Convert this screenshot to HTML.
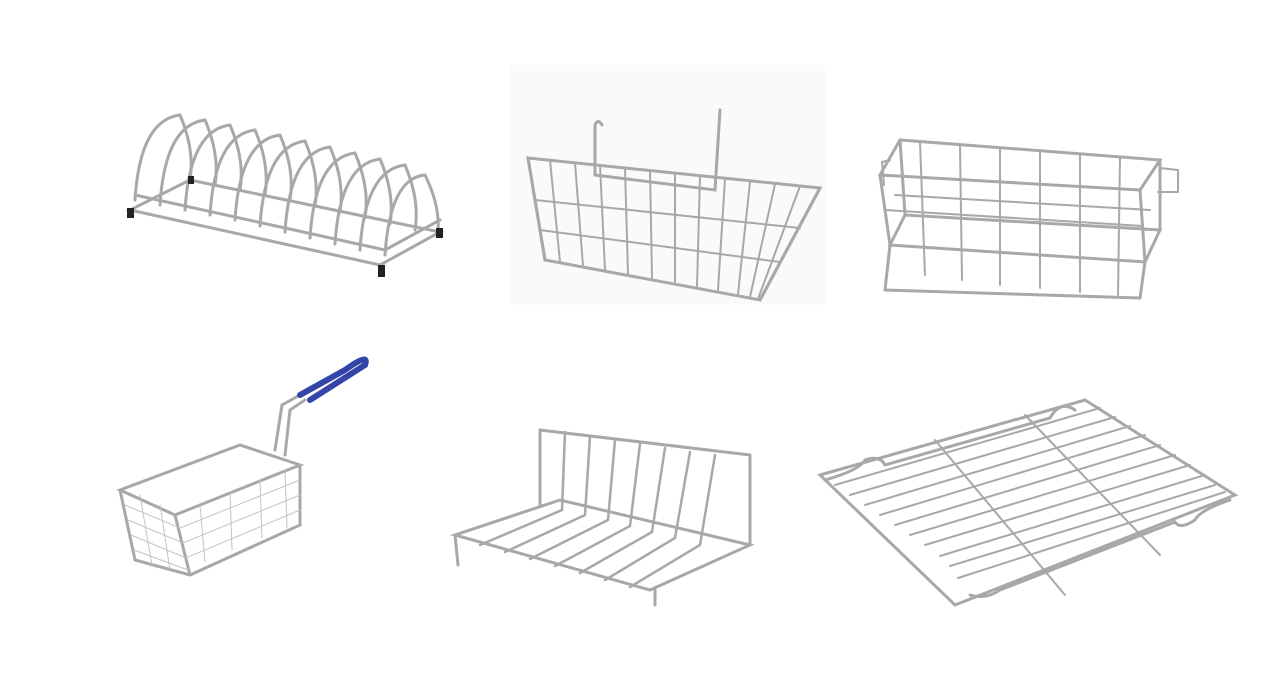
<!DOCTYPE html>
<html><head><meta charset="utf-8"><style>
html,body{margin:0;padding:0;background:#fff;width:1272px;height:688px;overflow:hidden}
</style></head><body>
<svg width="1272" height="688" viewBox="0 0 1272 688" xmlns="http://www.w3.org/2000/svg">
<rect x="510" y="65" width="315" height="240" fill="#fafafa"/>
<g fill="none" stroke="#a8a8a8" stroke-width="3" stroke-linecap="round">
<!-- Dish rack -->
<path d="M130 210 L380 265 L440 232 L190 180 Z"/>
<path d="M135 195 L385 250 L440 220"/>
<g>
<path d="M135 200 Q140 120 180 115 Q195 150 190 180"/>
<path d="M160 205 Q165 125 205 120 Q220 155 215 185"/>
<path d="M185 210 Q190 130 230 125 Q245 160 240 190"/>
<path d="M210 215 Q215 135 255 130 Q270 165 265 195"/>
<path d="M235 220 Q240 140 280 135 Q295 170 290 200"/>
<path d="M260 226 Q265 146 305 141 Q320 176 315 206"/>
<path d="M285 232 Q290 152 330 147 Q345 182 340 212"/>
<path d="M310 238 Q315 158 355 153 Q370 188 365 218"/>
<path d="M335 244 Q340 164 380 159 Q395 194 390 224"/>
<path d="M360 250 Q365 170 405 165 Q420 200 415 230"/>
<path d="M385 255 Q390 178 425 175 Q440 205 438 232"/>
</g>
<!-- wall basket -->
<path d="M528 158 L820 188 L760 300 L545 260 Z"/>
<path d="M528 158 L545 260 M820 188 L760 300"/>
<path d="M595 125 L595 175 L715 190 L720 110 M595 125 Q598 118 602 125"/>
<g stroke-width="2">
<path d="M550 160 L560 262 M575 163 L583 266 M600 165 L605 270 M625 168 L628 274 M650 170 L652 278 M675 173 L675 282 M700 176 L697 286 M725 179 L718 290 M750 182 L738 294 M775 184 L750 297 M800 186 L758 299"/>
<path d="M535 200 L800 228 M540 230 L780 262"/>
</g>
<!-- storage basket -->
<path d="M880 175 L1140 190 L1160 160 L900 140 Z"/>
<path d="M890 245 L1145 262 L1160 230 L905 215 Z"/>
<path d="M880 175 L890 245 M1140 190 L1145 262 M1160 160 L1160 230 M900 140 L905 215"/>
<path d="M885 290 L1140 298 M885 290 L890 245 M1140 298 L1145 262"/>
<g stroke-width="2">
<path d="M920 142 L925 275 M960 145 L962 280 M1000 148 L1000 285 M1040 151 L1040 288 M1080 154 L1080 292 M1120 157 L1118 295"/>
<path d="M885 210 L1143 226 M895 195 L1150 210"/>
<path d="M1160 168 L1178 170 L1178 192 L1158 192"/>
<path d="M890 160 L882 162 L884 185"/>
</g>
<!-- fry basket -->
<path d="M120 490 L240 445 L300 465 L175 515 Z"/>
<path d="M120 490 L135 560 L190 575 L300 525 L300 465"/>
<path d="M175 515 L190 575"/>
<g stroke="#c4c4c4" stroke-width="1">
<path d="M125 505 L180 528 L300 480 M128 520 L183 543 L300 495 M131 535 L186 558 L300 510 M134 550 L188 570"/>
<path d="M140 495 L152 565 M160 505 L170 570 M200 505 L205 562 M230 492 L232 550 M260 480 L262 538 M285 470 L287 528"/>
</g>
<path d="M275 450 L282 405 L300 395 M285 455 L290 410 L305 400"/>
<path d="M300 395 L345 370 Q370 352 365 365 L310 400" stroke="#3445a8" stroke-width="6"/>
<!-- plate rack -->
<path d="M455 535 L650 590 L750 545 L560 500 Z"/>
<path d="M540 430 L540 505 M750 455 L750 545 M540 430 L750 455"/>
<path d="M655 590 L655 605 M455 535 L458 565"/>
<g stroke-width="2.5">
<path d="M565 432 L562 510 L480 545 M590 436 L585 515 L505 552 M615 440 L608 520 L530 559 M640 444 L630 526 L555 566 M665 448 L652 532 L580 573 M690 452 L675 538 L605 580 M715 455 L700 545 L630 587"/>
</g>
<!-- cooling grid -->
<path d="M820 475 L1085 400 L1235 495 L955 605 Z"/>
<path d="M825 480 Q860 470 865 460 Q880 455 885 465 L1050 418 Q1060 400 1075 410 M1230 500 Q1200 510 1195 520 Q1180 530 1175 522 L1000 590 Q985 600 970 595"/>
<g stroke-width="2">
<path d="M835 485 L1100 408 M850 495 L1115 417 M865 505 L1130 426 M880 515 L1145 435 M895 525 L1160 445 M910 535 L1175 455 M925 545 L1190 465 M940 556 L1205 475 M950 566 L1215 485 M958 578 L1225 492"/>
<path d="M935 440 L1065 595 M1025 415 L1160 555"/>
</g>
</g>
<g fill="#222"><rect x="127" y="208" width="7" height="10"/><rect x="378" y="265" width="7" height="12"/><rect x="436" y="228" width="7" height="10"/><rect x="188" y="176" width="6" height="8"/></g>
</svg>
</body></html>
